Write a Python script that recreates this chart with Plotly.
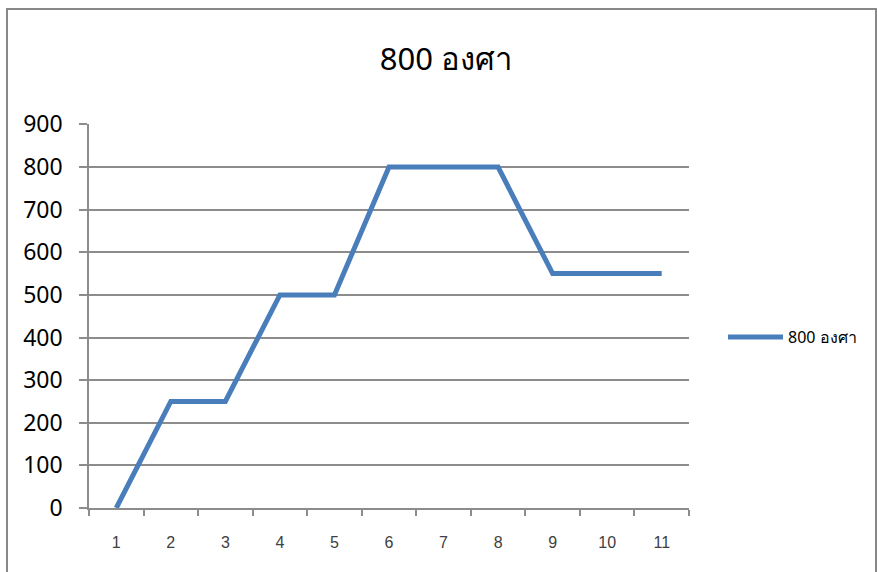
import plotly.graph_objects as go

categories = ["1", "2", "3", "4", "5", "6", "7", "8", "9", "10", "11"]
values = [0, 250, 250, 500, 500, 800, 800, 800, 550, 550, 550]
series_name = "800 องศา"
title_text = "800 องศา"
y_ticks = [0, 100, 200, 300, 400, 500, 600, 700, 800, 900]

W, H = 877, 572
L, R, T, B = 89, 689, 124, 508

fig = go.Figure()
fig.add_trace(go.Scatter(
    x=categories, y=values, mode="lines", name=series_name,
    line=dict(color="#4a7ebb", width=5),
))

fig.update_layout(
    width=W, height=H,
    margin=dict(l=L, r=W - R, t=T, b=H - B),
    paper_bgcolor="white", plot_bgcolor="white",
    font=dict(family="Noto Sans, Liberation Sans, sans-serif", color="#000000"),
    title=dict(text=title_text, x=446 / W, xanchor="center",
               y=1 - 59 / H, yanchor="middle", yref="container",
               font=dict(size=31, color="#000000")),
    showlegend=True,
    legend=dict(x=(723 - L) / (R - L), y=1 - (337 - T) / (B - T),
                xanchor="left", yanchor="middle",
                itemwidth=55, borderwidth=0,
                font=dict(size=16, color="#000000"),
                bgcolor="rgba(0,0,0,0)"),
)

fig.update_xaxes(
    type="category", range=[-0.5, 10.5],
    showgrid=False, showline=True, linecolor="#8c8c8c", linewidth=1.5,
    ticks="outside", tickson="boundaries", ticklen=6, tickcolor="#8c8c8c", tickwidth=1.5,
    ticklabelstandoff=19,
    tickfont=dict(size=16, color="#404040", family="Liberation Sans, Arial, sans-serif"),
    fixedrange=True,
)
fig.update_yaxes(
    range=[0, 901], tickvals=y_ticks,
    showgrid=True, gridcolor="#8c8c8c", gridwidth=1.5,
    showline=True, linecolor="#8c8c8c", linewidth=1.5,
    ticks="outside", ticklen=8, tickcolor="#8c8c8c", tickwidth=1.5,
    ticklabelstandoff=12,
    tickfont=dict(size=23, color="#000000"),
    zeroline=False, fixedrange=True,
)

# outer chart border (paper coordinates extended outside plot area)
def px_x(p):
    return (p - L) / (R - L)

def px_y(p):
    return (B - p) / (B - T)

fig.add_shape(type="rect", xref="paper", yref="paper",
              x0=px_x(7), x1=px_x(876), y0=px_y(590), y1=px_y(9),
              line=dict(color="#888888", width=2), layer="below")

fig.write_html("out.html")
